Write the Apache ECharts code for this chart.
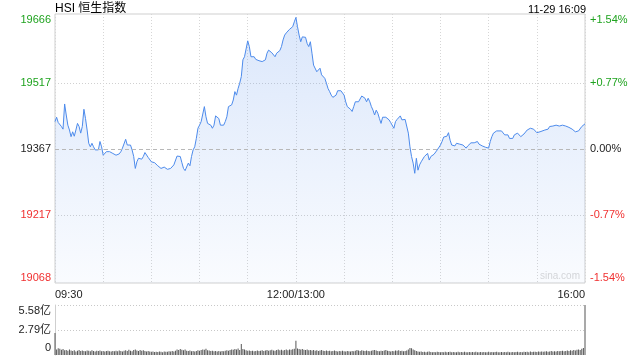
<!DOCTYPE html>
<html><head><meta charset="utf-8">
<script src="https://cdn.jsdelivr.net/npm/echarts@6/dist/echarts.min.js"></script>
<style>html,body{margin:0;padding:0;background:#fff}#c{width:640px;height:360px}</style>
</head><body><div id="c"></div>
<script>
const titleText = 'HSI 恒生指数';
const stampText = '11-29 16:09';
const watermark = 'sina.com';
const priceTicks = ['19068', '19217', '19367', '19517', '19666'];
const pctTicks = ['-1.54%', '-0.77%', '0.00%', '+0.77%', '+1.54%'];
const timeTicks = { 0: '09:30', 150: '12:00/13:00', 330: '16:00' };
const volTicks = ['0', '2.79亿', '5.58亿'];
const prevClose = 19367;

// minutes since 09:30 (trading minutes, lunch removed)
const minutes = [
  0,1,2,4,5,6,7,8,9,10,11,12,13,14,15,16,17,18,19,20,21,22,23,24,25,26,27,28,29,30,
  31,32,33,34,35,36,37,38,39,40,41,42,44,45,46,47,48,49,50,51,52,53,54,55,56,57,58,59,60,
  61,62,63,64,65,66,67,68,69,70,72,73,74,75,76,77,78,79,80,81,82,83,84,85,86,87,88,89,90,
  91,92,93,94,95,96,97,98,99,100,101,102,103,104,105,106,107,108,109,110,111,112,113,114,115,
  116,117,118,119,120,121,122,123,124,125,126,127,128,129,130,131,132,133,134,135,136,137,138,139,140,
  141,142,143,144,145,146,147,148,149,150,151,152,153,154,155,156,157,158,159,160,
  161,162,163,164,165,166,167,168,169,170,171,172,173,174,175,176,177,178,
  179,180,181,182,183,184,185,186,187,188,189,190,191,192,193,194,195,196,197,198,199,200,
  201,202,203,204,205,206,207,208,209,210,211,212,213,214,215,216,218,219,220,
  221,222,223,224,225,226,227,228,229,230,231,232,233,234,235,236,237,238,240,
  241,242,243,244,245,246,247,248,249,250,251,252,253,254,255,256,257,258,259,260,
  261,263,264,265,266,267,268,269,270,271,272,273,274,275,276,278,279,280,
  281,282,283,284,285,286,287,288,289,290,291,292,293,294,295,296,297,298,299,300,
  301,302,303,305,306,307,308,309,310,311,312,313,314,315,316,317,318,319,320,
  321,322,323,324,325,326,327,328,329,330
];
const prices = [
  19429,19439,19427,19418,19412,19469,19444,19421,19410,19395,19406,19396,19410,19425,19418,19403,19418,19457,19436,19410,19380,19372,19380,19372,19365,19369,19365,19384,19372,19353,
  19357,19361,19365,19361,19361,19357,19353,19353,19353,19356,19361,19369,19389,19376,19374,19376,19365,19350,19323,19338,19346,19342,19344,19350,19359,19357,19348,19346,19338,
  19335,19336,19333,19329,19326,19323,19321,19326,19323,19321,19323,19321,19331,19335,19351,19353,19350,19336,19323,19318,19319,19335,19329,19350,19365,19372,19391,19414,19421,
  19429,19433,19463,19440,19425,19421,19421,19414,19421,19442,19446,19436,19421,19418,19421,19429,19440,19463,19459,19467,19478,19497,19489,19504,19516,
  19531,19569,19576,19576,19612,19599,19576,19574,19576,19570,19569,19567,19567,19565,19562,19569,19584,19591,19587,19585,19584,19576,19584,19585,19590,
  19599,19614,19625,19630,19630,19638,19635,19644,19655,19665,19644,19625,19610,19621,19618,19620,19606,19599,19610,19584,
  19557,19553,19542,19546,19550,19535,19531,19527,19516,19504,19497,19489,19484,19484,19489,19499,19501,19499,
  19497,19489,19474,19463,19459,19457,19452,19463,19474,19478,19474,19478,19487,19491,19482,19474,19482,19474,19463,19455,19444,19455,
  19448,19436,19425,19439,19440,19439,19436,19433,19427,19425,19414,19429,19434,19436,19442,19433,19434,19434,19403,
  19372,19350,19335,19312,19346,19319,19331,19338,19342,19350,19353,19357,19342,19350,19351,19355,19351,19365,19376,
  19384,19394,19395,19396,19404,19387,19376,19378,19374,19380,19376,19378,19374,19376,19372,19369,19374,19378,19381,19384,
  19381,19384,19378,19380,19374,19371,19371,19369,19369,19384,19395,19403,19406,19408,19406,19408,19404,19399,
  19395,19399,19391,19395,19391,19399,19395,19403,19399,19395,19399,19401,19403,19410,19414,19414,19410,19412,19412,19404,
  19405,19406,19406,19410,19408,19412,19418,19421,19419,19421,19421,19421,19419,19421,19421,19421,19419,19418,19416,
  19412,19412,19408,19406,19410,19408,19412,19418,19421,19424
];

// volume (亿), one value per trading minute 0..330
const volumes = [
  2.45,0.62,0.75,0.70,0.58,0.66,0.52,0.55,0.48,0.60,
  0.50,0.45,0.52,0.40,0.48,0.55,0.44,0.50,0.46,0.42,
  0.50,0.47,0.43,0.52,0.45,0.40,0.48,0.44,0.50,0.42,
  0.46,0.40,0.44,0.48,0.42,0.38,0.45,0.41,0.47,0.43,
  0.50,0.44,0.40,0.47,0.52,0.45,0.58,0.48,0.42,0.55,
  0.62,0.50,0.46,0.55,0.48,0.52,0.44,0.40,0.46,0.38,
  0.35,0.40,0.33,0.37,0.34,0.40,0.36,0.32,0.38,0.35,
  0.37,0.42,0.38,0.45,0.40,0.48,0.62,0.55,0.66,0.58,
  0.52,0.60,0.48,0.45,0.50,0.42,0.46,0.40,0.44,0.52,
  0.48,0.55,0.62,0.58,0.70,0.52,0.50,0.45,0.48,0.42,
  0.46,0.40,0.44,0.38,0.45,0.42,0.48,0.52,0.47,0.55,
  0.60,0.58,0.66,0.62,0.72,0.55,1.22,0.68,0.60,0.52,
  0.48,0.50,0.44,0.47,0.42,0.46,0.50,0.45,0.48,0.52,
  0.46,0.50,0.55,0.48,0.52,0.58,0.50,0.47,0.55,0.62,
  0.52,0.58,0.50,0.55,0.60,0.54,0.62,0.58,0.65,0.70,
  1.60,0.72,0.66,0.60,0.68,0.58,0.55,0.62,0.52,0.56,
  0.50,0.55,0.48,0.52,0.46,0.50,0.55,0.48,0.44,0.50,
  0.45,0.48,0.42,0.46,0.50,0.44,0.40,0.45,0.42,0.47,
  0.43,0.40,0.46,0.42,0.38,0.44,0.41,0.48,0.55,0.50,
  0.46,0.52,0.48,0.44,0.50,0.45,0.42,0.47,0.52,0.56,
  0.50,0.46,0.42,0.48,0.45,0.50,0.55,0.48,0.44,0.40,
  0.46,0.42,0.50,0.47,0.52,0.45,0.48,0.43,0.46,0.50,
  0.62,0.78,0.75,0.60,0.52,0.45,0.40,0.36,0.38,0.34,
  0.36,0.32,0.35,0.38,0.33,0.30,0.34,0.31,0.36,0.33,
  0.30,0.34,0.32,0.36,0.30,0.33,0.35,0.31,0.34,0.30,
  0.32,0.36,0.30,0.33,0.31,0.35,0.30,0.32,0.34,0.31,
  0.33,0.30,0.35,0.32,0.30,0.34,0.31,0.33,0.30,0.32,
  0.35,0.31,0.34,0.30,0.33,0.36,0.32,0.30,0.34,0.31,
  0.33,0.30,0.35,0.32,0.31,0.34,0.30,0.33,0.36,0.32,
  0.34,0.31,0.35,0.33,0.36,0.32,0.38,0.34,0.37,0.35,
  0.33,0.38,0.36,0.40,0.35,0.38,0.42,0.37,0.40,0.44,
  0.38,0.42,0.40,0.45,0.41,0.44,0.48,0.42,0.46,0.50,
  0.45,0.52,0.48,0.55,0.50,0.58,0.62,0.55,0.70,0.78,
  5.58
];

const FONT = "'Liberation Sans', Arial, 'Noto Sans CJK SC', sans-serif";
const GREEN = '#1fa31f', RED = '#f03030', BLACK = '#222';
function tickColor(i) { return i > 2 ? GREEN : (i < 2 ? RED : BLACK); }
function keyOf(i) { return i === 4 ? 'top' : (i === 0 ? 'bot' : 'mid' + i); }
function lbl(i, text) { return '{' + keyOf(i) + '|' + text + '}'; }
function richFor() {
  const r = {};
  for (let i = 0; i < 5; i++) {
    r[keyOf(i)] = { color: tickColor(i), fontSize: 11, fontFamily: FONT,
      padding: i === 4 ? [6, 0, 0, 0] : (i === 0 ? [0, 0, 6, 0] : 0) };
  }
  return r;
}

const chart = echarts.init(document.getElementById('c'), null, { renderer: 'canvas' });
chart.setOption({
  animation: false,
  backgroundColor: '#fff',
  textStyle: { fontFamily: FONT },
  graphic: [
    { type: 'text', left: 55, top: 3, style: { text: titleText, font: '12px ' + FONT, fill: '#000' } },
    { type: 'text', right: 54, top: 4, style: { text: stampText, font: '11px ' + FONT, fill: '#000' } },
    { type: 'text', right: 60, top: 271, style: { text: watermark, font: '10px ' + FONT, fill: '#d8d8d8' } }
  ],
  grid: [
    { left: 55, width: 530, top: 17, height: 264, show: false },
    { left: 55, width: 530, top: 14, height: 269, show: true, borderColor: '#cfcfcf', borderWidth: 1 },
    { left: 55, width: 530, top: 305, height: 50, show: false }
  ],
  xAxis: [
    { gridIndex: 0, type: 'value', min: 0, max: 330, show: false },
    { gridIndex: 1, type: 'value', min: 0, max: 330, interval: 30,
      axisLine: { show: false }, axisTick: { show: false },
      splitLine: { show: true, lineStyle: { color: '#d6d6d6', type: [1, 2], width: 1 } },
      axisLabel: { show: true, margin: 6, fontSize: 11, color: '#222', fontFamily: FONT,
        alignMinLabel: 'left', alignMaxLabel: 'right',
        formatter: v => timeTicks[v] || '' } },
    { gridIndex: 2, type: 'value', min: 0, max: 330, interval: 30,
      axisLine: { show: false }, axisTick: { show: false }, axisLabel: { show: false }, splitLine: { show: false } }
  ],
  yAxis: [
    { gridIndex: 0, type: 'value', position: 'left', min: 0, max: 4, interval: 1,
      axisLine: { show: false }, axisTick: { show: false },
      splitLine: { show: true, lineStyle: { color: ['transparent', '#d0d0d0', 'transparent', '#d0d0d0', 'transparent'], type: [1, 2] } },
      axisLabel: { margin: 4, formatter: (v) => lbl(v, priceTicks[v]), rich: richFor() } },
    { gridIndex: 0, type: 'value', position: 'right', min: 0, max: 4, interval: 1,
      axisLine: { show: false }, axisTick: { show: false }, splitLine: { show: false },
      axisLabel: { margin: 5, formatter: (v) => lbl(v, pctTicks[v]), rich: richFor() } },
    { gridIndex: 1, type: 'value', min: 19063.5, max: 19672.8, show: false, splitLine: { show: false } },
    { gridIndex: 2, type: 'value', min: 0, max: 5.58, interval: 2.79,
      axisLine: { show: true, lineStyle: { color: '#cfcfcf' } }, axisTick: { show: false },
      splitLine: { show: true, lineStyle: { color: ['transparent', '#c8c8c8', '#c8c8c8'], type: [1, 2] } },
      axisLabel: { margin: 4, fontSize: 11, color: '#222', fontFamily: FONT,
        formatter: (v) => {
          const k = Math.round(v / 2.79);
          const t = volTicks[k];
          return k === 2 ? '{top|' + t + '}' : (k === 0 ? '{bot|' + t + '}' : t);
        },
        rich: {
          top: { fontSize: 11, color: '#222', fontFamily: FONT, padding: [12, 0, 0, 0] },
          bot: { fontSize: 11, color: '#222', fontFamily: FONT, padding: [0, 0, 14, 0] }
        } } }
  ],
  series: [
    {
      type: 'line', xAxisIndex: 1, yAxisIndex: 2, symbol: 'none', smooth: false,
      data: minutes.map((m, i) => [m, prices[i]]),
      lineStyle: { color: '#4d8bec', width: 1 },
      areaStyle: { origin: 'start', color: new echarts.graphic.LinearGradient(0, 0, 0, 1, [
        { offset: 0, color: 'rgba(120,165,240,0.38)' },
        { offset: 1, color: 'rgba(120,165,240,0.06)' }
      ]) },
      markLine: { silent: true, symbol: 'none', label: { show: false },
        lineStyle: { color: '#b8b8b8', type: [4, 3], width: 1 },
        data: [{ yAxis: prevClose }] }
    },
    {
      type: 'bar', xAxisIndex: 2, yAxisIndex: 3, barWidth: 1,
      data: volumes.map((v, i) => [i, v]),
      itemStyle: { color: '#555' }
    }
  ]
});
</script></body></html>
